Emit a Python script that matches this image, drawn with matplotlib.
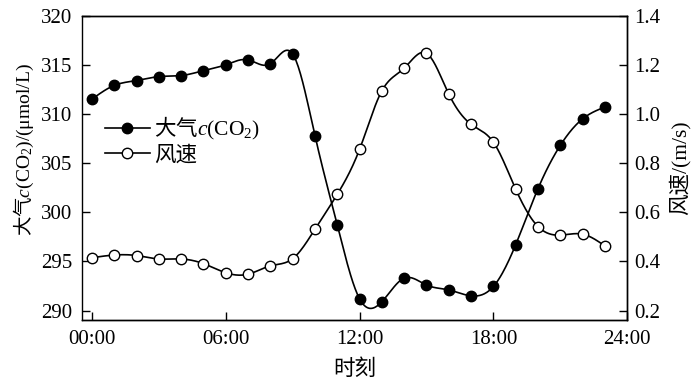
import numpy as np
import matplotlib
matplotlib.use('Agg')
import matplotlib.pyplot as plt

# hourly observations, 00:00 .. 23:00
hours = np.arange(24)
co2 = [311.5, 312.9, 313.4, 313.8, 313.9, 314.4, 315.0, 315.5, 315.1, 316.1,
       307.8, 298.7, 291.2, 290.9, 293.3, 292.6, 292.1, 291.5, 292.45, 296.7,
       302.4, 306.8, 309.5, 310.7]
wind = [0.415, 0.426, 0.424, 0.410, 0.410, 0.391, 0.354, 0.348, 0.382, 0.411,
        0.531, 0.673, 0.856, 1.094, 1.186, 1.247, 1.081, 0.958, 0.885, 0.694,
        0.542, 0.507, 0.511, 0.463]
xticks = [0, 6, 12, 18, 24]
xticklabels = ['00:00', '06:00', '12:00', '18:00', '24:00']


def spline(x, y, n=20):
	"""natural cubic spline through (x, y), for drawing a smooth line"""
	x = np.asarray(x, float)
	y = np.asarray(y, float)
	k = len(x)
	h = np.diff(x)
	A = np.zeros((k, k))
	b = np.zeros(k)
	A[0, 0] = A[-1, -1] = 1.
	for i in range(1, k - 1):
		A[i, i - 1] = h[i - 1]
		A[i, i] = 2 * (h[i - 1] + h[i])
		A[i, i + 1] = h[i]
		b[i] = 6 * ((y[i + 1] - y[i]) / h[i] - (y[i] - y[i - 1]) / h[i - 1])
	m = np.linalg.solve(A, b)
	xs, ys = [], []
	for i in range(k - 1):
		t = np.linspace(x[i], x[i + 1], n, endpoint=False)
		a = x[i + 1] - t
		c = t - x[i]
		s = (m[i] * a**3 + m[i + 1] * c**3) / (6 * h[i]) \
			+ (y[i] / h[i] - m[i] * h[i] / 6) * a \
			+ (y[i + 1] / h[i] - m[i + 1] * h[i] / 6) * c
		xs.append(t)
		ys.append(s)
	xs.append([x[-1]])
	ys.append([y[-1]])
	return np.concatenate(xs), np.concatenate(ys)


plt.rcParams['font.family'] = ['Liberation Serif', 'Noto Sans CJK SC']
# mathtext can't fall back, so chinese goes through \mathrm, latin through \mathsf
plt.rcParams['mathtext.fontset'] = 'custom'
plt.rcParams['mathtext.rm'] = 'Noto Sans CJK SC'
plt.rcParams['mathtext.sf'] = 'Liberation Serif'
plt.rcParams['mathtext.it'] = 'Liberation Serif:italic'
plt.rcParams['font.size'] = 15

fig = plt.figure(figsize=(7, 3.81), dpi=100)
ax = fig.add_axes([0.117, 0.159, 0.779, 0.800])
ax2 = ax.twinx()

lw = 1.2
ms = 7.5
xs, ys = spline(hours, co2)
ax.plot(xs, ys, color='black', lw=lw)
ax.plot(hours, co2, 'o', color='black', ms=ms, mfc='black', mec='black')
xs, ys = spline(hours, wind)
ax2.plot(xs, ys, color='black', lw=lw)
ax2.plot(hours, wind, 'o', color='black', ms=ms, mfc='white', mec='black', mew=1.0)

co2_label = r'$\mathrm{大气}c$(CO$_\mathsf{2}$)'
h1, = ax.plot([], [], '-o', color='black', lw=lw, ms=ms, mfc='black')
h2, = ax.plot([], [], '-o', color='black', lw=lw, ms=ms, mfc='white', mew=1.0)
ax.legend([h1, h2], [co2_label, '风速'], loc='center left',
          bbox_to_anchor=(0.042, 0.59), frameon=False, handlelength=2.1,
          handletextpad=0.2, labelspacing=0.15, borderpad=0, borderaxespad=0,
          fontsize=15.5)

ax.set_xlim(-0.45, 24)
ax.set_ylim(289, 320)
ax2.set_ylim(0.16, 1.4)
ax.set_xticks(xticks)
ax.set_xticklabels(xticklabels)
ax.set_yticks(np.arange(290, 321, 5))
ax2.set_yticks(np.arange(0.2, 1.41, 0.2))
ax2.set_yticklabels(['%.1f' % v for v in np.arange(0.2, 1.41, 0.2)])

for a in (ax, ax2):
	a.tick_params(direction='in', length=6, width=1.0)
	for s in a.spines.values():
		s.set_linewidth(1.0)
ax.tick_params(axis='x', pad=7)
ax.tick_params(axis='y', pad=7)
ax2.tick_params(axis='y', pad=5)
ax2.spines['left'].set_visible(False)
ax.set_xlabel('时刻', fontsize=15.5, labelpad=7)
ax.set_ylabel(co2_label + '/(μmol/L)', fontsize=14)
ax.yaxis.set_label_coords(-0.085, 0.56)
ax2.set_ylabel('风速/(m/s)', fontsize=15.5, labelpad=6)

fig.savefig('out.png', dpi=100)
